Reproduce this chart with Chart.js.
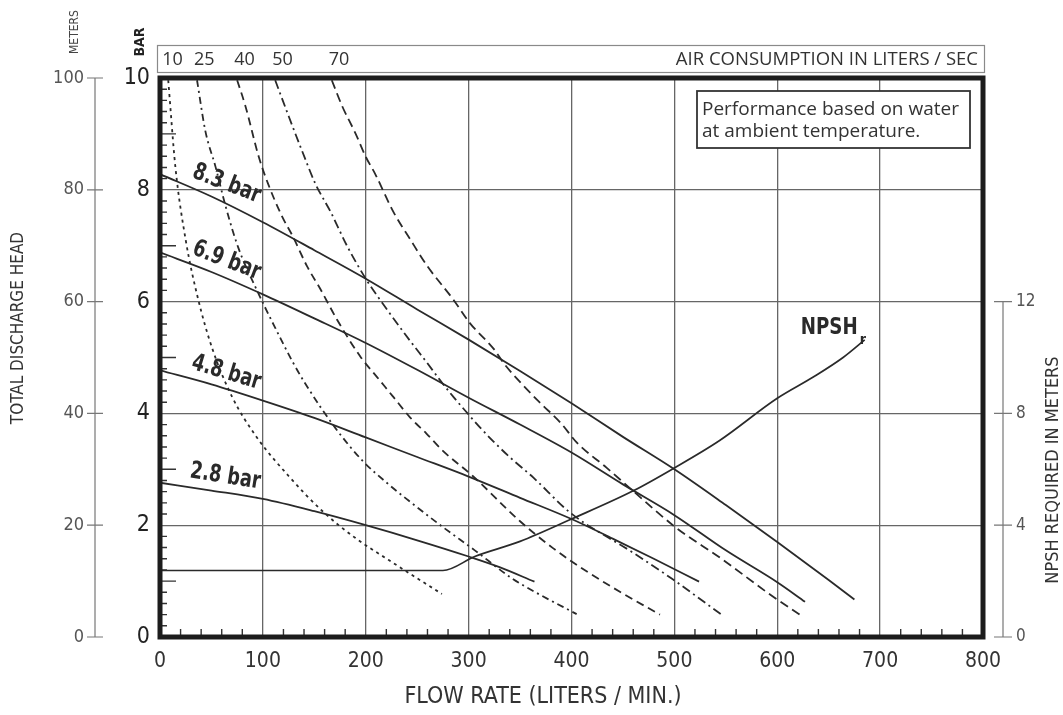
<!DOCTYPE html>
<html>
<head>
<meta charset="utf-8">
<script src="https://cdn.jsdelivr.net/npm/chart.js@4.4.1/dist/chart.umd.min.js"></script>
<style>
  html, body { margin: 0; padding: 0; background: #fff; }
  #wrap { width: 1063px; height: 715px; }
</style>
</head>
<body>
<div id="wrap"><canvas id="pumpChart" width="1063" height="715"></canvas></div>
<script>
// pressure curves: [flow L/min, head in bar]
const bar83 = [[0,8.28],[50,7.88],[100,7.42],[150,6.92],[200,6.41],[250,5.86],[300,5.32],[350,4.76],[400,4.18],[450,3.58],[500,3.0],[550,2.36],[600,1.7],[650,1.02],[675,0.67]];
const bar69 = [[0,6.88],[50,6.53],[100,6.13],[150,5.7],[200,5.26],[250,4.78],[300,4.28],[350,3.8],[400,3.3],[450,2.73],[500,2.18],[550,1.55],[600,0.98],[627,0.63]];
const bar48 = [[0,4.77],[50,4.52],[100,4.23],[150,3.92],[200,3.57],[250,3.22],[300,2.87],[350,2.49],[400,2.11],[440,1.76],[480,1.4],[524,0.99]];
const bar28 = [[0,2.76],[50,2.62],[100,2.47],[150,2.25],[200,2.0],[250,1.73],[300,1.44],[330,1.25],[364,0.99]];

// air consumption curves (liters / sec)
const air10 = [[8,9.96],[15,8.4],[25,7.1],[37,6.05],[51,5.15],[70,4.3],[93,3.6],[125,2.88],[158,2.25],[190,1.77],[222,1.38],[274,0.77]];
const air25 = [[36,9.96],[44,9.06],[54,8.41],[64,7.69],[76,6.97],[93,6.25],[112,5.53],[129,4.92],[141,4.54],[170,3.75],[197,3.15],[221,2.75],[241,2.45],[274,1.98],[306,1.55],[342,1.05],[365,0.8],[405,0.41]];
const air40 = [[75,9.96],[83,9.5],[96,8.59],[105,8.11],[119,7.51],[129,7.17],[143,6.63],[156,6.22],[172,5.68],[195,5.01],[211,4.65],[227,4.29],[243,3.93],[259,3.64],[275,3.33],[304,2.88],[350,2.07],[382,1.59],[415,1.17],[447,0.81],[486,0.4]];
const air50 = [[112,9.96],[125,9.32],[138,8.7],[151,8.11],[166,7.6],[182,6.99],[200,6.41],[221,5.85],[243,5.3],[259,4.92],[272,4.6],[285,4.3],[299,4.0],[311,3.75],[324,3.5],[341,3.2],[363,2.85],[399,2.22],[458,1.53],[497,1.05],[545,0.41]];
const air70 = [[167,9.96],[177,9.5],[190,9.01],[200,8.59],[209,8.29],[227,7.6],[243,7.12],[260,6.63],[285,6.04],[301,5.62],[325,5.14],[334,4.9],[351,4.54],[370,4.18],[390,3.82],[405,3.48],[434,3.03],[460,2.61],[502,1.95],[545,1.41],[593,0.76],[625,0.36]];

// NPSH required, meters
const npshReq = [[0,2.38],[275,2.38],[306,2.88],[350,3.42],[400,4.22],[460,5.23],[500,6.05],[544,7.03],[600,8.54],[635,9.3],[664,10.0],[685,10.63]];

const pressureNames = ['8.3 bar', '6.9 bar', '4.8 bar', '2.8 bar'];
const airNames = ['10', '25', '40', '50', '70'];

const flowTicks = [0, 100, 200, 300, 400, 500, 600, 700, 800];
const barTicks = [0, 2, 4, 6, 8, 10];
const meterTicks = [0, 20, 40, 60, 80, 100];
const npshTicks = [0, 4, 8, 12];

const narrow = "'Liberation Sans Narrow', 'DejaVu Sans Condensed', 'Arial Narrow', sans-serif";
const plain = "'Open Sans', 'Noto Sans', sans-serif";
const ink = '#2a2a2a';

const pressureSeries = [bar83, bar69, bar48, bar28];
const airSeries = [air10, air25, air40, air50, air70];
const airDash = [[3, 4], [7, 4, 2, 4], [8, 5], [9, 4, 2, 4], [9, 5]];

const toPts = arr => arr.map(p => ({ x: p[0], y: p[1] }));

let datasets = [];
pressureSeries.forEach((s, i) => {
   datasets.push({
      label: pressureNames[i], data: toPts(s), yAxisID: 'y',
      borderColor: ink, borderWidth: 1.8, pointRadius: 0,
      cubicInterpolationMode: 'monotone', fill: false
   });
});
airSeries.forEach((s, i) => {
   datasets.push({
      label: airNames[i] + ' l/s', data: toPts(s), yAxisID: 'y',
      borderColor: ink, borderWidth: 1.8, borderDash: airDash[i], pointRadius: 0,
      cubicInterpolationMode: 'monotone', fill: false
   });
});
datasets.push({
   label: 'NPSHr', data: toPts(npshReq), yAxisID: 'npsh',
   borderColor: ink, borderWidth: 1.7, pointRadius: 0,
   cubicInterpolationMode: 'monotone', fill: false
});

// linear lookup along a curve
function headAt(arr, f) {
   for (let i = 1; i < arr.length; i++) {
      if (f <= arr[i][0]) {
         let t = (f - arr[i-1][0]) / (arr[i][0] - arr[i-1][0]);
         return arr[i-1][1] + t * (arr[i][1] - arr[i-1][1]);
      }
   }
   return arr[arr.length - 1][1];
}

function vText(ctx, txt, x, y, font, color) {
   ctx.save();
   ctx.translate(x, y);
   ctx.rotate(-Math.PI / 2);
   ctx.font = font;
   ctx.fillStyle = color;
   ctx.textAlign = 'center';
   ctx.textBaseline = 'middle';
   ctx.fillText(txt, 0, 0);
   ctx.restore();
}

const decor = {
   id: 'decor',
   afterDraw(chart) {
      const { ctx, chartArea: a } = chart;
      const x = chart.scales.x, y = chart.scales.y, m = chart.scales.m, np = chart.scales.npsh;
      ctx.save();

      // minor ticks inside the frame
      ctx.strokeStyle = '#333';
      ctx.lineWidth = 1.4;
      ctx.beginPath();
      for (let i = 1; i < 50; i++) {
         if (i % 10 === 0) continue;
         let py = y.getPixelForValue(i / 5);
         let len = (i % 5 === 0) ? 16 : 7;
         ctx.moveTo(a.left, py); ctx.lineTo(a.left + len, py);
      }
      for (let f = 20; f < 800; f += 20) {
         if (f % 100 === 0) continue;
         let px = x.getPixelForValue(f);
         ctx.moveTo(px, a.bottom); ctx.lineTo(px, a.bottom - 8);
      }
      ctx.stroke();

      // thick frame
      ctx.strokeStyle = '#1c1c1c';
      ctx.lineWidth = 5;
      ctx.strokeRect(a.left, a.top, a.right - a.left, a.bottom - a.top);

      // meters axis (outer left)
      let mx = a.left - 65;
      ctx.strokeStyle = '#777';
      ctx.lineWidth = 1.2;
      ctx.beginPath();
      ctx.moveTo(mx, m.getPixelForValue(0)); ctx.lineTo(mx, m.getPixelForValue(100));
      meterTicks.forEach(v => {
         let py = m.getPixelForValue(v);
         ctx.moveTo(mx - 8, py); ctx.lineTo(mx + 8, py);
      });
      ctx.stroke();

      // NPSH axis (right)
      let nx = a.right + 20;
      ctx.beginPath();
      ctx.moveTo(nx, np.getPixelForValue(0)); ctx.lineTo(nx, np.getPixelForValue(12));
      npshTicks.forEach(v => {
         let py = np.getPixelForValue(v);
         ctx.moveTo(nx - 9, py); ctx.lineTo(nx + 9, py);
      });
      ctx.stroke();

      // axis titles
      vText(ctx, 'TOTAL DISCHARGE HEAD', 19, 328, '17px ' + narrow, '#333');
      vText(ctx, 'METERS', 75, 32, '12px ' + narrow, '#444');
      vText(ctx, 'BAR', 140, 42, 'bold 14px ' + narrow, '#222');
      vText(ctx, 'NPSH REQUIRED IN METERS', 1053, 470, '18px ' + narrow, '#333');

      ctx.fillStyle = '#333';
      ctx.font = '23px ' + narrow;
      ctx.textAlign = 'center';
      ctx.textBaseline = 'middle';
      ctx.fillText('FLOW RATE (LITERS / MIN.)', 543, 697);

      // air consumption header box
      ctx.strokeStyle = '#8a8a8a';
      ctx.lineWidth = 1.2;
      ctx.strokeRect(a.left - 2.5, 45.5, a.right - a.left + 4, 27);
      ctx.fillStyle = '#333';
      ctx.font = '18px ' + plain;
      ctx.textBaseline = 'middle';
      ctx.textAlign = 'left';
      airSeries.forEach((s, i) => {
         ctx.fillText(airNames[i], x.getPixelForValue(s[0][0]) - 3 - (i === 0 ? 3 : 0), 60);
      });
      ctx.textAlign = 'right';
      ctx.font = '18.5px ' + plain;
      ctx.fillText('AIR CONSUMPTION IN LITERS / SEC', a.right - 5, 60);

      // note box
      ctx.fillStyle = '#fff';
      ctx.fillRect(697, 91, 273, 57);
      ctx.strokeStyle = '#333';
      ctx.lineWidth = 1.8;
      ctx.strokeRect(697, 91, 273, 57);
      ctx.fillStyle = '#333';
      ctx.textAlign = 'left';
      ctx.font = '19px ' + plain;
      ctx.fillText('Performance based on water', 702, 110);
      ctx.fillText('at ambient temperature.', 702, 132);

      // pressure labels along curves
      ctx.fillStyle = ink;
      ctx.font = 'bold 24px ' + narrow;
      ctx.textAlign = 'left';
      ctx.textBaseline = 'bottom';
      pressureSeries.forEach((s, i) => {
         let f0 = 27, f1 = 97;
         let px0 = x.getPixelForValue(f0), py0 = y.getPixelForValue(headAt(s, f0));
         let px1 = x.getPixelForValue(f1), py1 = y.getPixelForValue(headAt(s, f1));
         let ang = Math.min(Math.atan2(py1 - py0, px1 - px0), 21 * Math.PI / 180);
         ctx.save();
         ctx.translate(px0, py0);
         ctx.rotate(ang);
         ctx.scale(0.82, 1);
         ctx.fillText(pressureNames[i], 0, -4);
         ctx.restore();
      });

      // NPSHr label
      let last = npshReq[npshReq.length - 1];
      let ex = x.getPixelForValue(last[0]), ey = np.getPixelForValue(last[1]);
      ctx.save();
      ctx.translate(ex - 7, ey - 6);
      ctx.scale(0.88, 1);
      ctx.textAlign = 'right';
      ctx.textBaseline = 'alphabetic';
      ctx.font = 'bold 23px ' + narrow;
      ctx.fillText('NPSH', 0, 0);
      ctx.restore();
      ctx.textAlign = 'left';
      ctx.textBaseline = 'alphabetic';
      ctx.font = 'bold 14px ' + narrow;
      ctx.fillText('r', ex - 5, ey + 4);

      ctx.restore();
   }
};

new Chart(document.getElementById('pumpChart'), {
   type: 'line',
   data: { datasets: datasets },
   options: {
      responsive: false,
      animation: false,
      devicePixelRatio: 1,
      layout: { padding: { top: 78, left: 0, right: 0, bottom: 0 } },
      plugins: { legend: { display: false }, tooltip: { enabled: false } },
      scales: {
         x: {
            type: 'linear', position: 'bottom', min: 0, max: 800,
            afterBuildTicks: s => { s.ticks = flowTicks.map(v => ({ value: v })); },
            ticks: { font: { family: narrow, size: 21 }, color: '#333', padding: 12 },
            grid: { color: '#666', lineWidth: 1.3, drawTicks: false },
            border: { display: false },
            afterFit: s => { s.height = 78; }
         },
         y: {
            position: 'left', weight: 0, min: 0, max: 10,
            afterBuildTicks: s => { s.ticks = barTicks.map(v => ({ value: v })); },
            ticks: { font: { family: narrow, size: 23 }, color: '#222', padding: 10 },
            grid: { color: '#666', lineWidth: 1.3, drawTicks: false },
            border: { display: false },
            afterFit: s => { s.width = 60; }
         },
         m: {
            position: 'left', weight: 1, min: 0, max: 100,
            afterBuildTicks: s => { s.ticks = meterTicks.map(v => ({ value: v })); },
            ticks: { font: { family: narrow, size: 18 }, color: '#555', padding: 16 },
            grid: { display: false, drawTicks: false },
            border: { display: false },
            afterFit: s => { s.width = 100; }
         },
         npsh: {
            position: 'right', min: 0, max: 20,
            afterBuildTicks: s => { s.ticks = npshTicks.map(v => ({ value: v })); },
            ticks: { font: { family: narrow, size: 17 }, color: '#555', padding: 33 },
            grid: { display: false, drawTicks: false },
            border: { display: false },
            afterFit: s => { s.width = 80; }
         }
      }
   },
   plugins: [decor]
});
</script>
</body>
</html>
